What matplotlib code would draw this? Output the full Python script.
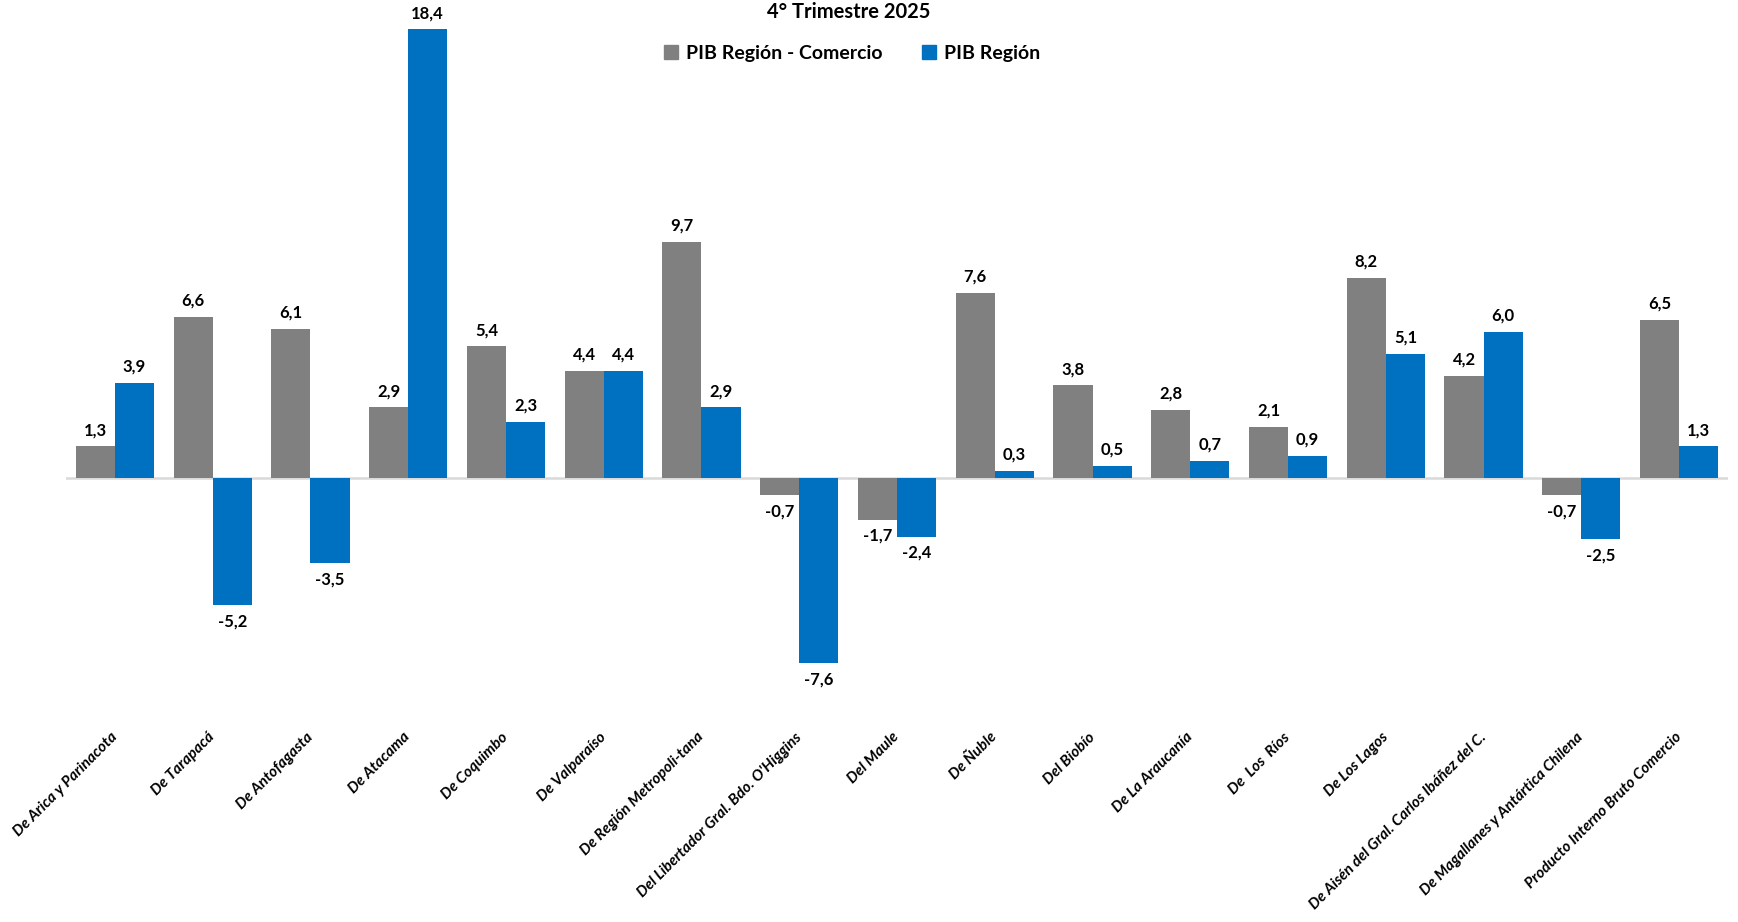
import numpy as np
import matplotlib.pyplot as plt
from matplotlib.patches import Patch

regiones = [
    "De Arica y Parinacota",
    "De Tarapacá",
    "De Antofagasta",
    "De Atacama",
    "De Coquimbo",
    "De Valparaíso",
    "De Región Metropoli-tana",
    "Del Libertador Gral. Bdo. O'Higgins",
    "Del Maule",
    "De Ñuble",
    "Del Biobío",
    "De La Araucanía",
    "De  Los  Ríos",
    "De Los Lagos",
    "De Aisén del Gral. Carlos Ibáñez del C.",
    "De Magallanes y Antártica Chilena",
    "Producto Interno Bruto Comercio",
]
pib_comercio = [1.3, 6.6, 6.1, 2.9, 5.4, 4.4, 9.7, -0.7, -1.7, 7.6, 3.8, 2.8, 2.1, 8.2, 4.2, -0.7, 6.5]
pib_region = [3.9, -5.2, -3.5, 18.4, 2.3, 4.4, 2.9, -7.6, -2.4, 0.3, 0.5, 0.7, 0.9, 5.1, 6.0, -2.5, 1.3]

gris = "#808080"
azul = "#0070C0"

plt.rcParams["font.family"] = ["Lato", "DejaVu Sans"]

fig = plt.figure(figsize=(17.38, 9.22), dpi=100)
ax = fig.add_axes([66 / 1738, 0.254, (1728 - 66) / 1738, 0.730])

x = np.arange(len(regiones))
w = 0.4
b1 = ax.bar(x - w / 2, pib_comercio, w, color=gris, label="PIB Región - Comercio")
b2 = ax.bar(x + w / 2, pib_region, w, color=azul, label="PIB Región")

# etiquetas de valores
for bars, vals in [(b1, pib_comercio), (b2, pib_region)]:
    for rect, v in zip(bars, vals):
        txt = f"{v:.1f}".replace(".", ",")
        if v >= 0:
            ax.annotate(txt, (rect.get_x() + rect.get_width() / 2, v),
                        xytext=(0, 6), textcoords="offset points",
                        ha="center", va="bottom", fontsize=12, fontweight="bold")
        else:
            ax.annotate(txt, (rect.get_x() + rect.get_width() / 2, v),
                        xytext=(0, -6), textcoords="offset points",
                        ha="center", va="top", fontsize=12, fontweight="bold")

ax.axhline(0, color="#d9d9d9", linewidth=1.8, zorder=0)
ax.set_xlim(-0.5, len(regiones) - 0.5)
ax.set_ylim(-8.6, 19.0)
ax.set_yticks([])
ax.set_xticks(x)
ax.set_xticklabels(regiones, rotation=45, ha="right", va="center",
                   rotation_mode="anchor", fontsize=11,
                   fontstyle="italic", fontweight="bold")
ax.tick_params(axis="x", length=0, pad=34)
for s in ax.spines.values():
    s.set_visible(False)

fig.text(849 / 1738, 1 - 12 / 922, "4° Trimestre 2025", ha="center", va="center",
         fontsize=14.5, fontweight="bold")

handles = [Patch(color=gris, label="PIB Región - Comercio"),
           Patch(color=azul, label="PIB Región")]
fig.legend(handles=handles, loc="center", bbox_to_anchor=(852 / 1738, 1 - 53 / 922),
           ncol=2, frameon=False, handlelength=0.75, handleheight=0.75,
           handletextpad=0.4, columnspacing=2.0,
           prop={"size": 14, "weight": "bold"})

fig.savefig("out.png", dpi=100)
